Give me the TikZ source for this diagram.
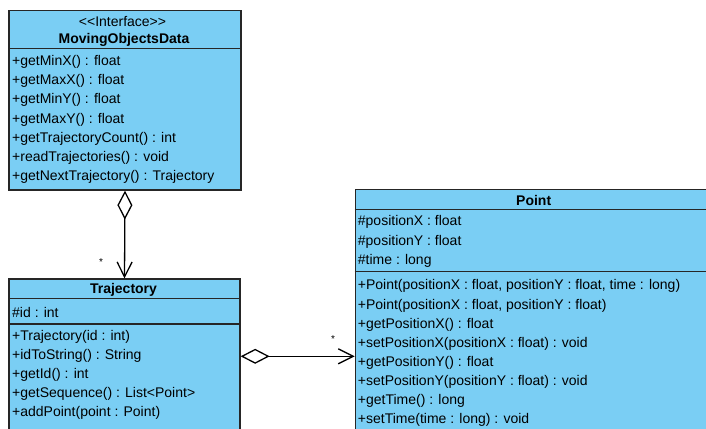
\documentclass[tikz,border=0pt]{standalone}
\usepackage{fontspec}
\setmainfont{Liberation Sans}[Ligatures=TeXOff]
\usetikzlibrary{arrows.meta,positioning}
\definecolor{umlblue}{RGB}{122,206,244}
\tikzset{
  classbox/.style={draw=black!85, fill=umlblue, line width=1.3pt, inner sep=0pt},
  classline/.style={draw=black!85, line width=1.3pt},
  title/.style={inner sep=0pt, font=\fontsize{14}{16}\selectfont},
  classname/.style={inner sep=0pt, font=\fontsize{14}{16}\selectfont\bfseries},
  member/.style={anchor=west, inner sep=0pt, font=\fontsize{14}{16}\selectfont},
  mult/.style={inner sep=0pt, font=\fontsize{10}{12}\selectfont},
  aggr/.style={line width=1.3pt, {Diamond[open,length=29pt,width=15pt]}-{Straight Barb[length=15pt,width=15pt]}}
}
\begin{document}
\begin{tikzpicture}[x=1pt,y=-1pt]
  \useasboundingbox (0,0) rectangle (706,428);
  \clip (0,0) rectangle (706,428);
  % class boxes
  \node[classbox, minimum width=232pt, minimum height=179.3pt] (mod) at (125,100.35) {};
  \node[classbox, minimum width=231pt, minimum height=154.6pt] (traj) at (124.5,356.3) {};
  \node[classbox, minimum width=356.7pt, minimum height=334pt] (pt) at (533.7,356.3) {};
  % compartments
  \draw[classline] (mod.west |- 0,48.7) -- (mod.east |- 0,48.7);
  \draw[classline] (traj.west |- 0,298.3) -- (traj.east |- 0,298.3);
  \draw[classline] (traj.west |- 0,324) -- (traj.east |- 0,324);
  \draw[classline] (pt.west |- 0,209.3) -- (pt.east |- 0,209.3);
  \draw[classline] (pt.west |- 0,271.7) -- (pt.east |- 0,271.7);
  % MovingObjectsData
  \node[title] (modstereo) at (122.5,21.7) {<<Interface>>};
  \node[classname] (modname) at (124,40) {MovingObjectsData};
  \foreach \t [count=\i] in {+getMinX() : float, +getMaxX() : float, +getMinY() : float,
      +getMaxY() : float, +getTrajectoryCount() : int, +readTrajectories() : void,
      +getNextTrajectory() : Trajectory}
    \node[member] (modop\i) at (12,62+19.15*\i-19.15) {\t};
  % Trajectory
  \node[classname] (trajname) at (123.5,290) {Trajectory};
  \node[member] (trajid) at (12,312.7) {\#id : int};
  \foreach \t [count=\i] in {+Trajectory(id : int), +idToString() : String, +getId() : int,
      +getSequence() : List<Point>, +addPoint(point : Point)}
    \node[member] (trajop\i) at (12,336.7+19.15*\i-19.15) {\t};
  % Point
  \node[classname] (ptname) at (533.7,200.7) {Point};
  \foreach \t [count=\i] in {\#positionX : float, \#positionY : float, \#time : long}
    \node[member] (ptattr\i) at (357.7,222+19.5*\i-19.5) {\t};
  \foreach \t [count=\i] in {{+Point(positionX : float, positionY : float, time : long)},
      {+Point(positionX : float, positionY : float)}, +getPositionX() : float,
      +setPositionX(positionX : float) : void, +getPositionY() : float,
      +setPositionY(positionY : float) : void, +getTime() : long,
      +setTime(time : long) : void}
    \node[member] (ptop\i) at (357.7,286.3+19.1*\i-19.1) {\t};
  % aggregations
  \draw[aggr] (mod.south) -- (traj.north);
  \draw[aggr] (traj.east) -- (pt.west);
  \node[mult] (mstar) at (101,262) {*};
  \node[mult] (pstar) at (333,339) {*};
\end{tikzpicture}
\end{document}
